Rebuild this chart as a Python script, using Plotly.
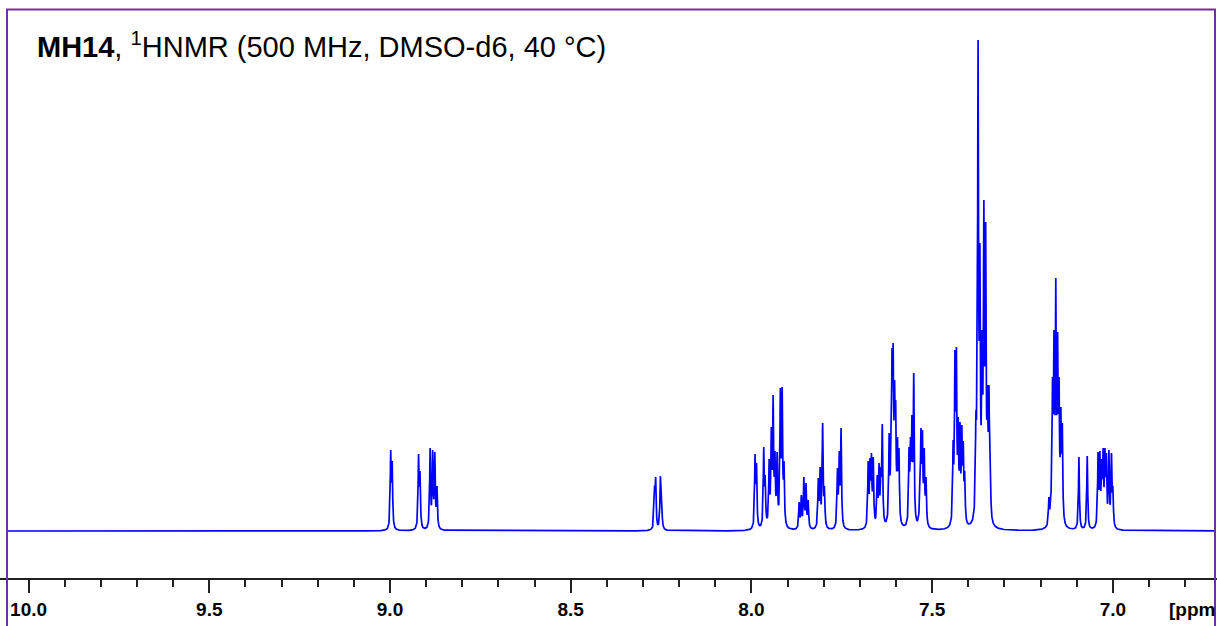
import numpy as np
import plotly.graph_objects as go

# ---- data (chemical shift in ppm, apex intensity, arbitrary units) ----
peak_ppm = [
    8.998, 8.994, 8.921, 8.917, 8.889, 8.882, 8.876, 8.870,
    8.268, 8.265, 8.252, 8.249,
    7.990, 7.986, 7.966, 7.962, 7.951, 7.945, 7.940, 7.935, 7.929, 7.920, 7.915, 7.910,
    7.868, 7.862, 7.855, 7.849, 7.843,
    7.815, 7.810, 7.803, 7.798,
    7.762, 7.757, 7.752,
    7.677, 7.672, 7.668, 7.663,
    7.652, 7.647, 7.642, 7.638,
    7.619, 7.614, 7.611, 7.608, 7.604, 7.601, 7.596, 7.592,
    7.564, 7.560, 7.556, 7.551,
    7.534, 7.531, 7.527, 7.522, 7.517,
    7.442, 7.437, 7.433, 7.428, 7.423, 7.418, 7.414, 7.410,
    7.379, 7.376, 7.373, 7.368, 7.362, 7.357, 7.352, 7.347, 7.343, 7.339,
    7.177, 7.172, 7.167, 7.163, 7.158, 7.153, 7.149, 7.144, 7.140,
    7.094, 7.071,
    7.041, 7.036, 7.031, 7.027, 7.022, 7.018, 7.011, 7.004, 7.000,
]
peak_height = [
    81, 70, 77, 60, 83, 81, 79, 45,
    45, 54, 54, 45,
    77, 68, 84, 56, 72, 104, 136, 80, 79, 143, 144, 70,
    29, 36, 54, 48, 31,
    53, 64, 108, 45,
    63, 80, 103,
    70, 73, 78, 74,
    56, 68, 64, 107,
    98, 108, 183, 188, 151, 131, 94, 83,
    84, 94, 116, 158,
    54, 103, 101, 83, 54,
    91, 181, 184, 114, 109, 106, 90, 60,
    121, 150, 491, 288, 201, 331, 309, 146, 146, 60,
    34, 36, 154, 201, 253, 199, 154, 124, 108,
    74, 75,
    79, 80, 72, 83, 83, 78, 81, 78, 45,
]
line_width_ppm = 0.0030          # Lorentzian FWHM
x_ticks = [10.0, 9.5, 9.0, 8.5, 8.0, 7.5, 7.0]
title_html = "<b>MH14</b>, <sup>1</sup>HNMR (500 MHz, DMSO-d6, 40 °C)"
unit_label = "[ppm"

# ---- build spectrum from the peak list ----
pos = np.array(peak_ppm)
obs = np.array(peak_height, dtype=float)
hw = line_width_ppm / 2


def lor(d):
    return hw ** 2 / (d ** 2 + hw ** 2)


# amplitudes such that summed curve reaches the observed apex heights
A = lor(pos[:, None] - pos[None, :])
amp = obs.copy()
for _ in range(300):
    amp = np.clip(amp + 0.5 * (obs - A @ amp), 0, None)

grid = np.unique(np.concatenate([np.arange(6.715, 10.062, 0.0004), pos]))
spec = (amp[None, :] * lor(grid[:, None] - pos[None, :])).sum(axis=1)

W, H = 1217, 626
base_px = 531
FONT = "Liberation Sans, Arial"
fig = go.Figure()
fig.add_trace(go.Scatter(x=grid, y=spec, mode="lines",
                         line=dict(color="#0000FF", width=1.7),
                         hoverinfo="skip", showlegend=False))

fig.update_layout(
    width=W, height=H,
    margin=dict(l=0, r=0, t=0, b=0),
    paper_bgcolor="white", plot_bgcolor="white",
    xaxis=dict(
        range=[10.079, 6.712], autorange=False,
        anchor="free", position=1 - 579 / H,
        showline=True, linecolor="#222222", linewidth=1.5,
        ticks="outside", ticklen=13, tickwidth=1.5, tickcolor="#222222",
        tickvals=x_ticks, ticktext=[f"{v:.1f}" for v in x_ticks],
        tickfont=dict(family=FONT, size=19, color="black", weight="bold"),
        minor=dict(dtick=0.1, tick0=0, ticklen=7, tickwidth=1.5, tickcolor="#222222",
                   ticks="outside", showgrid=False),
        showgrid=False, zeroline=False,
    ),
    yaxis=dict(range=[base_px - H, base_px], visible=False, showgrid=False, zeroline=False),
    shapes=[dict(type="rect", xref="paper", yref="paper",
                 x0=7 / W, x1=1215 / W, y0=-0.2, y1=1 - 9.5 / H,
                 line=dict(color="#7030A0", width=2), layer="above")],
    annotations=[
        dict(text=title_html, xref="paper", yref="paper", x=35 / W, y=1 - 45 / H,
             xanchor="left", yanchor="middle", showarrow=False,
             font=dict(family=FONT, size=29, color="black")),
        dict(text=unit_label, xref="paper", yref="paper", x=1167 / W, y=1 - 609 / H,
             xanchor="left", yanchor="middle", showarrow=False,
             font=dict(family=FONT, size=19, color="black", weight="bold")),
    ],
)

fig.write_html("out.html", config={"displayModeBar": False},
               post_script="document.body.style.margin='0';document.body.style.overflow='hidden';")
